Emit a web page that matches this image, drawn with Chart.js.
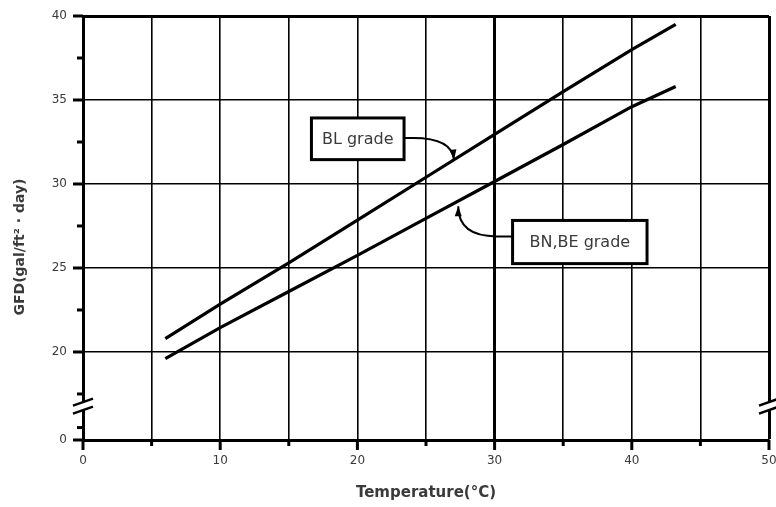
<!DOCTYPE html>
<html>
<head>
<meta charset="utf-8">
<script src="https://cdn.jsdelivr.net/npm/chart.js@4.4.1/dist/chart.umd.min.js"></script>
<style>
    html, body { margin: 0; padding: 0; background: #fff; }
    #wrap { width: 776px; height: 507px; }
</style>
</head>
<body>
<div id="wrap"><canvas id="gfdChart"></canvas></div>
<script>
/* ---------- DATA ---------- */
const temperatures = [6, 10, 15, 20, 25, 30, 35, 40, 43.2];
const blGrade      = [20.8, 22.85, 25.3, 27.85, 30.4, 32.95, 35.5, 38.0, 39.5];
const bnBeGrade    = [19.6, 21.45, 23.6, 25.75, 27.95, 30.15, 32.35, 34.6, 35.8];

const xMajorTicks = [0, 10, 20, 30, 40, 50];
const xMinorTicks = [5, 15, 25, 35, 45];

// y axis is broken below 20 - the "0" tick sits at this scale value
const Y_ZERO_AT = 14.76;
const Y_BREAK_AT = 16.78;
const yTickValues = [Y_ZERO_AT, 20, 25, 30, 35, 40];
const yTickLabels = ["0", "20", "25", "30", "35", "40"];
const yMinorTicks = [15.5, 17.5, 22.5, 27.5, 32.5, 37.5];

const seriesNames = ["BL grade", "BN,BE grade"];
const xTitle = "Temperature(°C)";
const yTitle = "GFD(gal/ft² · day)";

/* ---------- CALLOUTS (data units) ---------- */
const callouts = [
    {
        text: seriesNames[0],
        box: { x0: 16.65, x1: 23.4, y0: 31.45, y1: 33.93 },
        path: [[23.4, 32.74], [24.1, 32.74]],
        ctrl: [26.87, 32.74],
        tip: [27.04, 31.45]
    },
    {
        text: seriesNames[1],
        box: { x0: 31.31, x1: 41.11, y0: 25.26, y1: 27.83 },
        path: [[31.31, 26.88], [30.15, 26.88]],
        ctrl: [27.35, 26.88],
        tip: [27.35, 28.67]
    }
];

const FONT = "'DejaVu Sans', sans-serif";
const TEXT = "#3a3a3a";

/* ---------- OVERLAY PLUGIN ---------- */
const overlay = {
    id: "overlay",
    afterDraw(chart) {
        const { ctx, chartArea: a, scales: { x, y } } = chart;
        const seg = (x0, y0, x1, y1) => {
            ctx.beginPath(); ctx.moveTo(x0, y0); ctx.lineTo(x1, y1); ctx.stroke();
        };
        ctx.save();
        ctx.strokeStyle = "#000";
        ctx.fillStyle = "#000";
        ctx.lineCap = "butt";

        // tick marks
        ctx.lineWidth = 3;
        xMajorTicks.forEach(v => { const p = x.getPixelForValue(v); seg(p, a.bottom, p, a.bottom + 10); });
        xMinorTicks.forEach(v => { const p = x.getPixelForValue(v); seg(p, a.bottom, p, a.bottom + 6); });
        yTickValues.forEach(v => { const p = y.getPixelForValue(v); seg(a.left - 10, p, a.left, p); });
        yMinorTicks.forEach(v => { const p = y.getPixelForValue(v); seg(a.left - 6, p, a.left, p); });

        // axis break marks
        const by = y.getPixelForValue(Y_BREAK_AT);
        [a.left, a.right].forEach(bx => {
            ctx.fillStyle = "#fff";
            ctx.beginPath();
            ctx.moveTo(bx - 10, by - 0.5);
            ctx.lineTo(bx + 10, by - 7.5);
            ctx.lineTo(bx + 10, by + 0.5);
            ctx.lineTo(bx - 10, by + 7.5);
            ctx.closePath();
            ctx.fill();
            ctx.lineWidth = 2.5;
            seg(bx - 10, by - 0.5, bx + 10, by - 7.5);
            seg(bx - 10, by + 7.5, bx + 10, by + 0.5);
        });

        // callout boxes and arrows
        ctx.font = "16px " + FONT;
        ctx.textAlign = "center";
        ctx.textBaseline = "middle";
        callouts.forEach(c => {
            const px = v => x.getPixelForValue(v);
            const py = v => y.getPixelForValue(v);
            const bx0 = px(c.box.x0), bx1 = px(c.box.x1);
            const by0 = py(c.box.y1), by1 = py(c.box.y0);
            ctx.fillStyle = "#fff";
            ctx.fillRect(bx0, by0, bx1 - bx0, by1 - by0);
            ctx.lineWidth = 3;
            ctx.strokeRect(bx0, by0, bx1 - bx0, by1 - by0);
            ctx.fillStyle = TEXT;
            ctx.fillText(c.text, (bx0 + bx1) / 2, (by0 + by1) / 2 + 1);

            const cx = px(c.ctrl[0]), cy = py(c.ctrl[1]);
            const tx = px(c.tip[0]), ty = py(c.tip[1]);
            ctx.lineWidth = 2;
            ctx.beginPath();
            ctx.moveTo(px(c.path[0][0]), py(c.path[0][1]));
            ctx.lineTo(px(c.path[1][0]), py(c.path[1][1]));
            ctx.quadraticCurveTo(cx, cy, tx, ty);
            ctx.stroke();

            const ang = Math.atan2(ty - cy, tx - cx);
            ctx.fillStyle = "#000";
            ctx.beginPath();
            ctx.moveTo(tx, ty);
            ctx.lineTo(tx - 10 * Math.cos(ang) + 3.5 * Math.sin(ang), ty - 10 * Math.sin(ang) - 3.5 * Math.cos(ang));
            ctx.lineTo(tx - 10 * Math.cos(ang) - 3.5 * Math.sin(ang), ty - 10 * Math.sin(ang) + 3.5 * Math.cos(ang));
            ctx.closePath();
            ctx.fill();
        });

        // y axis title
        ctx.translate(a.left - 63, (a.top + a.bottom) / 2 + 19);
        ctx.rotate(-Math.PI / 2);
        ctx.font = "bold 14px " + FONT;
        ctx.fillStyle = TEXT;
        ctx.fillText(yTitle, 0, 0);
        ctx.restore();
    }
};

/* ---------- CHART ---------- */
const ctx = document.getElementById("gfdChart").getContext("2d");

new Chart(ctx, {
    type: "line",
    data: {
        datasets: [
            {
                label: seriesNames[0],
                data: temperatures.map((t, i) => ({ x: t, y: blGrade[i] })),
                borderColor: "#000",
                borderWidth: 3.2,
                pointRadius: 0,
                tension: 0
            },
            {
                label: seriesNames[1],
                data: temperatures.map((t, i) => ({ x: t, y: bnBeGrade[i] })),
                borderColor: "#000",
                borderWidth: 3.2,
                pointRadius: 0,
                tension: 0
            }
        ]
    },
    options: {
        responsive: true,
        maintainAspectRatio: false,
        animation: false,
        layout: { padding: { top: 16, right: 7, left: 0, bottom: 0 } },
        plugins: {
            legend: { display: false },
            tooltip: { enabled: false }
        },
        scales: {
            x: {
                type: "linear",
                min: 0,
                max: 50,
                afterFit(scale) {
                    scale.height = 67;
                    scale.paddingLeft = 0;
                    scale.paddingRight = 0;
                },
                ticks: {
                    stepSize: 5,
                    autoSkip: false,
                    maxRotation: 0,
                    padding: 14,
                    color: TEXT,
                    font: { family: FONT, size: 12 },
                    callback: v => (v % 10 === 0 ? v : "")
                },
                grid: {
                    color: "#000",
                    drawTicks: false,
                    lineWidth: c => (c.tick && (c.tick.value === 30 || c.tick.value === 50) ? 3 : 1.6)
                },
                border: { display: true, color: "#000", width: 3 },
                title: {
                    display: true,
                    text: xTitle,
                    color: TEXT,
                    font: { family: FONT, size: 15, weight: "bold" },
                    padding: { top: 0, bottom: 5 }
                }
            },
            y: {
                type: "linear",
                min: Y_ZERO_AT,
                max: 40,
                afterFit(scale) {
                    scale.width = 83;
                    scale.paddingTop = 0;
                    scale.paddingBottom = 0;
                },
                afterBuildTicks(scale) {
                    scale.ticks = yTickValues.map(v => ({ value: v }));
                },
                ticks: {
                    padding: 16,
                    color: TEXT,
                    font: { family: FONT, size: 12 },
                    callback: (v, i) => yTickLabels[i]
                },
                grid: {
                    color: "#000",
                    drawTicks: false,
                    lineWidth: c => (c.tick && c.tick.value === 40 ? 3 : 1.6)
                },
                border: { display: true, color: "#000", width: 3 }
            }
        }
    },
    plugins: [overlay]
});
</script>
</body>
</html>
